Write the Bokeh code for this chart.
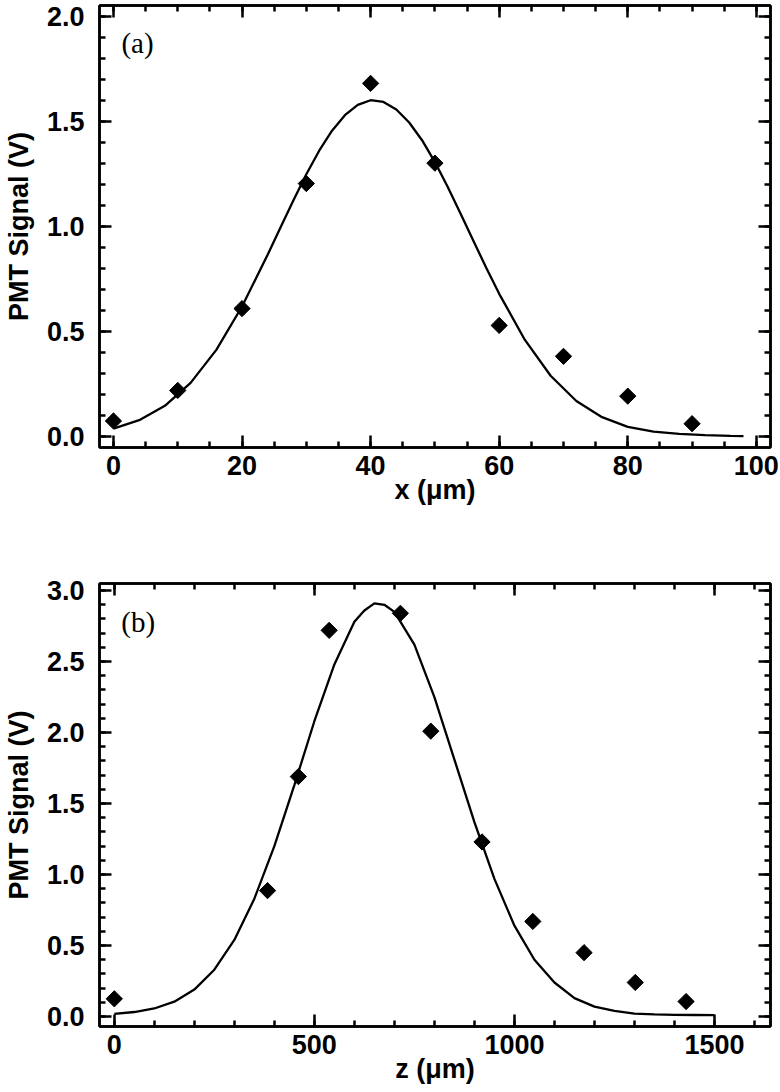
from bokeh.plotting import figure
from bokeh.models import LinearAxis, SingleIntervalTicker, Range1d, Label, NumeralTickFormatter
from bokeh.layouts import column
from bokeh.embed import file_html
from bokeh.resources import INLINE

# ---------------- data: panel (a) ----------------
x_pts_a = [0, 10, 20, 30, 40, 50, 60, 70, 80, 90]
y_pts_a = [0.076, 0.221, 0.61, 1.204, 1.68, 1.301, 0.53, 0.383, 0.194, 0.063]

x_fit_a = [0, 4, 8, 12, 16, 20, 24, 26, 28, 30, 32, 34, 36, 38, 40, 42, 44, 46, 48,
           50, 52, 54, 56, 58, 60, 64, 68, 72, 76, 80, 84, 88, 92, 96, 98]
y_fit_a = [0.040, 0.080, 0.148, 0.257, 0.414, 0.620, 0.867, 0.996, 1.125, 1.248, 1.360,
           1.455, 1.529, 1.578, 1.600, 1.592, 1.556, 1.494, 1.410, 1.306, 1.188, 1.061,
           0.931, 0.803, 0.680, 0.461, 0.291, 0.171, 0.094, 0.048, 0.025, 0.015, 0.009,
           0.005, 0.004]

# ---------------- data: panel (b) ----------------
z_pts_b = [0, 383, 460, 537, 715, 791, 919, 1046, 1174, 1302, 1429]
y_pts_b = [0.125, 0.887, 1.69, 2.72, 2.84, 2.01, 1.23, 0.67, 0.45, 0.24, 0.106]

z_fit_b = [0, 50, 100, 150, 200, 250, 300, 350, 400, 450, 500, 550, 600, 625, 650, 675,
           700, 750, 800, 850, 900, 950, 1000, 1050, 1100, 1150, 1200, 1250, 1300, 1350,
           1400, 1450, 1500]
y_fit_b = [0.019, 0.032, 0.057, 0.105, 0.19, 0.33, 0.54, 0.83, 1.20, 1.63, 2.08, 2.48,
           2.78, 2.86, 2.91, 2.90, 2.85, 2.62, 2.25, 1.81, 1.37, 0.97, 0.64, 0.40, 0.24,
           0.13, 0.07, 0.04, 0.02, 0.015, 0.012, 0.011, 0.010]

y_label = "PMT Signal (V)"
x_label_a = "x (\u03bcm)"
x_label_b = "z (\u03bcm)"
panel_a = "(a)"
panel_b = "(b)"

FONT = "Liberation Sans"
FS = "27px"
WEIGHT = "bold"


def style_axis(ax, ticker, labels=True, fmt=None, label_standoff=10, axlabel=None,
               axlabel_standoff=0):
    ax.ticker = ticker
    ax.axis_line_width = 2.5
    ax.axis_line_color = "black"
    ax.major_tick_in = 12
    ax.major_tick_out = 0
    ax.minor_tick_in = 6
    ax.minor_tick_out = 0
    ax.major_tick_line_width = 2.5
    ax.minor_tick_line_width = 2.5
    ax.major_tick_line_color = "black"
    ax.minor_tick_line_color = "black"
    if labels:
        ax.major_label_text_font = FONT
        ax.major_label_text_font_size = FS
        ax.major_label_text_font_style = WEIGHT
        ax.major_label_text_color = "black"
        ax.major_label_standoff = label_standoff
        if fmt is not None:
            ax.formatter = fmt
        if axlabel is not None:
            ax.axis_label = axlabel
            ax.axis_label_text_font = FONT
            ax.axis_label_text_font_size = FS
            ax.axis_label_text_font_style = WEIGHT
            ax.axis_label_text_color = "black"
            ax.axis_label_standoff = axlabel_standoff
    else:
        # mirror axis: ticks only, labels not drawn
        ax.major_label_text_font_size = "1px"
        ax.major_label_text_color = None
        ax.major_label_text_alpha = 0
        ax.major_label_standoff = 0


def make_panel(xs, ys, xf, yf, xr, yr, xtick, xminor, ytick, yminor, xlab, tag, tagx, tagy,
               height, top, bottom):
    p = figure(width=780, height=height, x_range=Range1d(*xr), y_range=Range1d(*yr),
               output_backend="svg", toolbar_location=None,
               min_border_left=98, min_border_right=10, min_border_top=top,
               min_border_bottom=bottom)
    p.grid.visible = False
    p.outline_line_color = "black"
    p.outline_line_width = 2.5
    p.background_fill_color = "white"
    p.border_fill_color = "white"

    xt = SingleIntervalTicker(interval=xtick, num_minor_ticks=xminor)
    yt = SingleIntervalTicker(interval=ytick, num_minor_ticks=yminor)

    style_axis(p.below[0], xt, True, None, 8, xlab, -3)
    style_axis(p.left[0], yt, True, NumeralTickFormatter(format="0.0"), 15, y_label, 10)

    top_ax = LinearAxis()
    right_ax = LinearAxis()
    style_axis(top_ax, xt, labels=False)
    style_axis(right_ax, yt, labels=False)
    p.add_layout(top_ax, "above")
    p.add_layout(right_ax, "right")

    p.line(xf, yf, line_color="black", line_width=2.3)
    p.scatter(xs, ys, marker="square", size=11.5, angle=0.7854,
              fill_color="black", line_color="black")

    p.add_layout(Label(x=tagx, y=tagy, text=tag, text_font="Liberation Serif",
                       text_font_size="29px", text_align="left", text_baseline="middle",
                       text_color="black"))
    return p


pa = make_panel(x_pts_a, y_pts_a, x_fit_a, y_fit_a, (-2.17, 102.2), (-0.05, 2.05),
                20, 4, 0.5, 5, x_label_a, panel_a, 1.24, 1.874,
                height=520, top=5, bottom=73)
pb = make_panel(z_pts_b, y_pts_b, z_fit_b, y_fit_b, (-37, 1640), (-0.07, 3.05),
                500, 5, 0.5, 5, x_label_b, panel_b, 17.5, 2.78,
                height=572, top=63, bottom=66)

layout = column(pa, pb)
open("out.html", "w").write(file_html(layout, INLINE))
